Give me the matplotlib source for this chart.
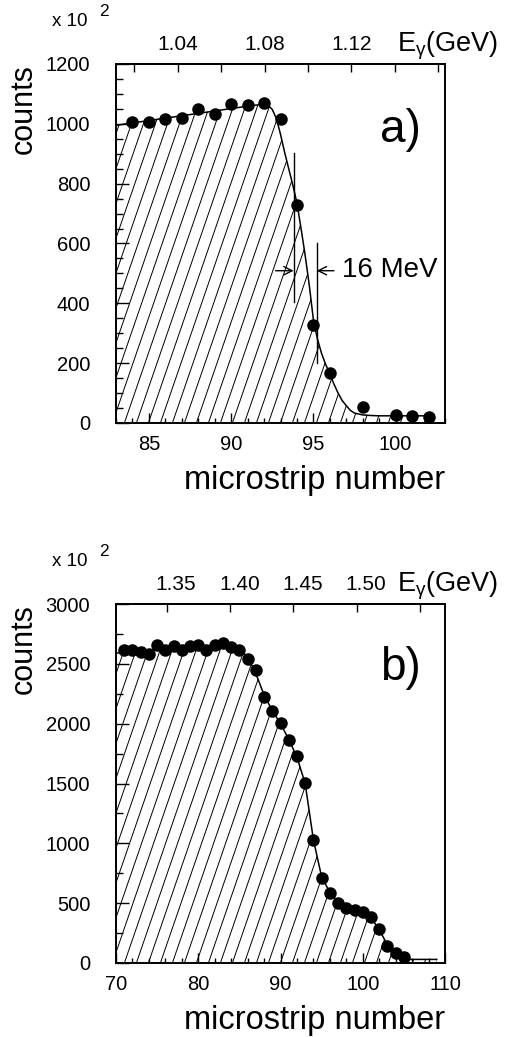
import numpy as np
import matplotlib.pyplot as plt
from matplotlib.collections import LineCollection
from matplotlib.transforms import Affine2D, ScaledTranslation
from matplotlib.ticker import MultipleLocator, FixedLocator, FormatStrFormatter

plt.rcParams['font.family'] = ['Liberation Sans', 'DejaVu Sans']
plt.rcParams['mathtext.fontset'] = 'custom'
plt.rcParams['mathtext.rm'] = 'Liberation Sans'
plt.rcParams['mathtext.it'] = 'Liberation Sans:italic'

# ---- a) tagger edge, low energy setting ----
strip_a = [84, 85, 86, 87, 88, 89, 90, 91, 92, 93, 94, 95, 96, 98, 100, 101, 102]
counts_a = [1007, 1005, 1016, 1020, 1048, 1034, 1066, 1062, 1068, 1015, 729, 328,
            167, 53, 28, 23, 21]

fit_strip_a = [83, 84, 85, 86, 87, 88, 89, 90, 91, 92, 92.25, 92.5, 92.75, 93,
               93.25, 93.5, 93.75, 94, 94.25, 94.5, 94.75, 95, 95.25, 95.5, 95.75,
               96, 96.25, 96.5, 96.75, 97, 97.25, 97.5, 98, 98.5, 99, 100, 101, 102]
fit_counts_a = [995, 1003, 1011, 1019, 1027, 1035, 1043, 1051, 1059, 1066, 1062, 1048,
                1018, 965, 905, 850, 795, 735, 650, 560, 460, 345, 280, 232, 195,
                165, 130, 100, 75, 58, 42, 33, 27, 25, 24, 24, 24, 24]

# resolution marker (strip positions, y spans) and arrow level
res_strip_a = [93.8, 95.2]
res_lo_a = [405, 200]
res_hi_a = [904, 600]
res_arrow_y = 509
res_arrow_from = [92.7, 96.25]

# photon energy calibration: E = e_ref + slope * (strip - s_ref)
e_ref_a, s_ref_a, slope_a = 1.02, 84.11, 0.007576

# ---- b) tagger edge, high energy setting ----
strip_b = list(range(71, 106))
counts_b = [2616, 2616, 2596, 2582, 2655, 2616, 2649, 2616, 2649, 2655, 2616, 2655,
            2672, 2638, 2616, 2541, 2449, 2226, 2106, 2003, 1861, 1730, 1502, 1028,
            708, 582, 504, 457, 443, 429, 382, 281, 145, 86, 53]

fit_strip_b = [70, 72, 74, 76, 78, 80, 82, 84, 85, 86, 87, 88, 89, 90, 91, 92, 93,
               94, 95, 96, 97, 98, 99, 100, 101, 102, 103, 104, 105, 105.6, 109]
fit_counts_b = [2590, 2600, 2610, 2620, 2630, 2640, 2645, 2640, 2620, 2560, 2420,
                2240, 2110, 2000, 1870, 1720, 1500, 1030, 720, 590, 510, 465, 445,
                425, 380, 280, 150, 85, 45, 30, 30]

e_ref_b, s_ref_b, slope_b = 1.35, 76.21, 0.006506

W, H, DPI = 514, 1037, 100
fig = plt.figure(figsize=(W / DPI, H / DPI), dpi=DPI)


def px(x, y):
    return x / W, 1 - y / H


def add_hatch(ax, xs, ys, step=12.0, angle=71.0):
    # slanted hatching below the curve, clipped to the filled region
    bb = ax.get_position()
    w = bb.width * W
    h = bb.height * H
    dx = h / np.tan(np.radians(angle))
    starts = np.arange(-dx - step, w + step, step)
    segs = [[(s, 0), (s + dx, h)] for s in starts]
    poly = ax.fill_between(xs, 0, ys, facecolor='none', edgecolor='none')
    lc = LineCollection(segs, colors='black', linewidths=0.7,
                        transform=Affine2D().scale(1 / w, 1 / h) + ax.transAxes)
    lc.set_clip_path(poly.get_paths()[0], ax.transData)
    ax.add_collection(lc, autolim=False)


def panel(top_px, xlim, ylim, xmaj, xmin, ymaj, ymin, e_ref, s_ref, slope,
          e_labels, e_minor, e_shift=0):
    left, right, bottom = 116, 445, top_px + 359
    x0, y0 = px(left, bottom)
    ax = fig.add_axes([x0, y0, (right - left) / W, 359 / H])
    ax.set_xlim(*xlim)
    ax.set_ylim(*ylim)
    for sp in ax.spines.values():
        sp.set_linewidth(1.4)
    ax.xaxis.set_major_locator(MultipleLocator(xmaj))
    ax.xaxis.set_minor_locator(MultipleLocator(xmin))
    ax.yaxis.set_major_locator(MultipleLocator(ymaj))
    ax.yaxis.set_minor_locator(MultipleLocator(ymin))
    ax.tick_params(which='both', direction='in', top=False, right=False, width=1)
    ax.tick_params(axis='x', which='major', length=7.2, pad=9, labelsize=14.5)
    ax.tick_params(axis='x', which='minor', length=3.6)
    ax.tick_params(axis='y', which='major', length=9.4, pad=18.5, labelsize=14.5)
    ax.tick_params(axis='y', which='minor', length=5)

    sec = ax.secondary_xaxis(
        'top',
        functions=(lambda s: e_ref + slope * (s - s_ref),
                   lambda e: s_ref + (e - e_ref) / slope))
    sec.xaxis.set_major_locator(FixedLocator(e_labels))
    sec.xaxis.set_minor_locator(FixedLocator(e_minor))
    sec.xaxis.set_major_formatter(FormatStrFormatter('%.2f'))
    sec.tick_params(which='both', direction='in', length=5.8, width=1, pad=7,
                    labelsize=15)
    sec.spines['top'].set_linewidth(1.4)
    if e_shift:
        shift = ScaledTranslation(e_shift / DPI, 0, fig.dpi_scale_trans)
        for tick in sec.xaxis.get_major_ticks():
            for lbl in (tick.label1, tick.label2):
                lbl.set_transform(lbl.get_transform() + shift)

    fig.text(*px(52, top_px - 38), 'x 10', fontsize=13.5, va='baseline')
    fig.text(*px(99, top_px - 48), '2', fontsize=12.5, va='baseline')
    fig.text(*px(24, top_px), 'counts', fontsize=22, rotation=90,
             ha='center', va='top')
    fig.text(*px(right, bottom + 66), 'microstrip number', fontsize=23.5,
             ha='right', va='baseline')
    fig.text(*px(397, top_px - 13), r'E$_{\mathrm{\gamma}}$(GeV)', fontsize=19.5,
             ha='left', va='baseline')
    return ax


# panel a
ax_a = panel(64, (83, 103), (0, 1200), 5, 1, 200, 50, e_ref_a, s_ref_a, slope_a,
             [1.04, 1.08, 1.12], [1.02, 1.06, 1.10, 1.14, 1.16])
add_hatch(ax_a, fit_strip_a, fit_counts_a)
ax_a.plot(fit_strip_a, fit_counts_a, color='black', lw=1.1)
ax_a.plot(strip_a, counts_a, 'o', color='black', markersize=8, zorder=5)
for s, lo, hi in zip(res_strip_a, res_lo_a, res_hi_a):
    ax_a.plot([s, s], [lo, hi], color='black', lw=1)
for s, s0 in zip(res_strip_a, res_arrow_from):
    ax_a.annotate('', xy=(s, res_arrow_y), xytext=(s0, res_arrow_y),
                  arrowprops=dict(arrowstyle='->,head_length=0.6,head_width=0.3',
                                  lw=1, color='black', shrinkA=0, shrinkB=0))
fig.text(*px(342, 270), '16 MeV', fontsize=20, ha='left', va='center')
fig.text(*px(400, 130), 'a)', fontsize=33, ha='center', va='center')

# panel b
ax_b = panel(604, (70, 110), (0, 3000), 10, 2, 500, 250, e_ref_b, s_ref_b, slope_b,
             [1.35, 1.40, 1.45, 1.50], [1.55], e_shift=9)
add_hatch(ax_b, fit_strip_b, fit_counts_b)
ax_b.plot(fit_strip_b, fit_counts_b, color='black', lw=1.1)
ax_b.plot(strip_b, counts_b, 'o', color='black', markersize=8, zorder=5)
fig.text(*px(400, 668), 'b)', fontsize=33, ha='center', va='center')

fig.savefig('out.png', dpi=DPI, facecolor='white')
